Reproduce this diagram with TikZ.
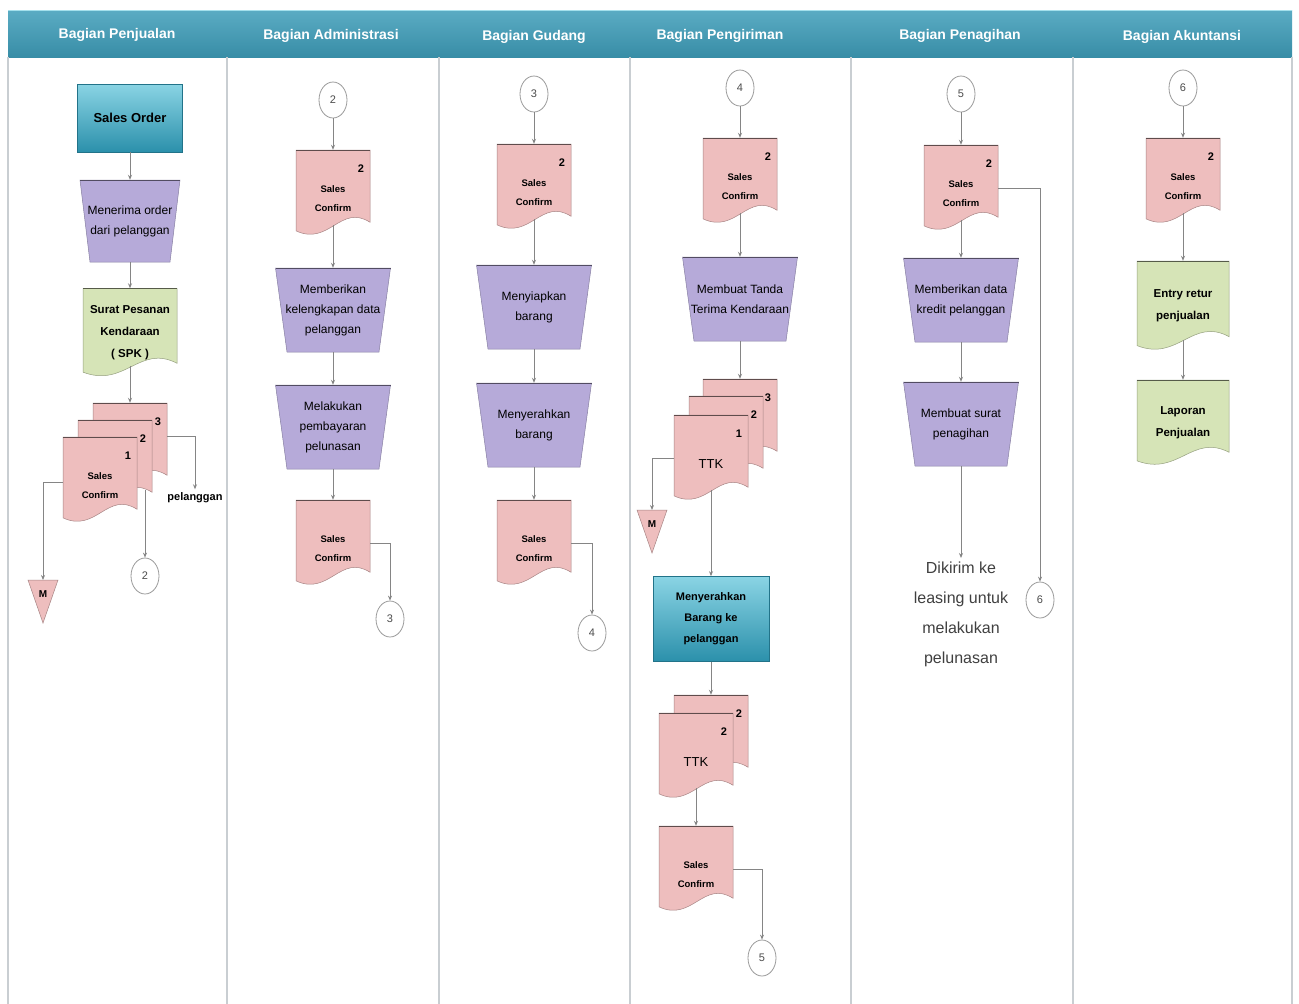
\documentclass[tikz,border=0pt]{standalone}
\usepackage{fontspec}
\setmainfont{Liberation Sans}
\usetikzlibrary{shapes.geometric,arrows.meta,calc}

\definecolor{hdrteal}{HTML}{3E9DB9}
\definecolor{hdrhi}{HTML}{A4E0EC}
\definecolor{docpink}{HTML}{EEBEBE}
\definecolor{oplav}{HTML}{B6AAD9}
\definecolor{docgreen}{HTML}{D6E4B7}
\definecolor{tealtop}{HTML}{8AD4E4}
\definecolor{tealbot}{HTML}{2B90AB}
\definecolor{wire}{HTML}{858585}
\definecolor{laneline}{HTML}{C9CED2}
\definecolor{circgray}{HTML}{9A9A9A}

\tikzset{
  x=1pt, y=-1pt,
  wire/.style={draw=wire, line width=0.8pt},
  flow/.style={wire, -{Stealth[length=5pt,width=4pt]}},
  lane/.style={draw=laneline, line width=1.6pt},
  anchorbox/.style={rectangle, inner sep=1pt, align=center},
  hdrlbl/.style={font=\bfseries\fontsize{14}{16}\selectfont, text=white},
  solbl/.style={font=\bfseries\fontsize{13}{15}\selectfont},
  % pink documents: label sits a little below the middle of the sheet
  cflbl/.style={font=\bfseries\fontsize{9.5}{19}\selectfont, yshift=-6pt, minimum height=98},
  oplbl/.style={font=\fontsize{12}{20}\selectfont},
  grlbl/.style={font=\bfseries\fontsize{11.5}{22}\selectfont},
  ttklbl/.style={font=\fontsize{13}{15}\selectfont, yshift=-6pt, minimum height=98},
  numlbl/.style={font=\bfseries\fontsize{11}{12}\selectfont, inner sep=0pt},
  procbox/.style={rectangle, draw=tealbot!80!black, line width=0.6pt,
    top color=tealtop, bottom color=tealbot, align=center, inner sep=2pt},
  conncirc/.style={ellipse, draw=circgray, fill=white, line width=0.8pt,
    minimum width=28, minimum height=36, inner sep=0pt,
    font=\fontsize{11}{12}\selectfont, text=black!70},
  notelbl/.style={align=center, font=\fontsize{16}{30}\selectfont, text=black!75},
  pellbl/.style={font=\bfseries\fontsize{11}{12}\selectfont}
}

% document symbol: name, x, y, width, height, fill, number, label style, text
\newcommand\docshape[9]{%
  \path[fill=#6, draw=#6!70!black, line width=0.5pt]
    ({#2-#4/2},{#3-#5/2}) -- ({#2+#4/2},{#3-#5/2})
    -- ({#2+#4/2},{#3+#5/2-0.16*#5})
    .. controls ({#2+#4/2-0.4*#4},{#3+#5/2-0.38*#5}) and ({#2-#4/2+0.45*#4},{#3+#5/2+0.12*#5})
    .. ({#2-#4/2},{#3+#5/2-0.06*#5}) -- cycle;
  \draw[draw=#6!40!black, line width=1pt] ({#2-#4/2},{#3-#5/2}) -- ({#2+#4/2},{#3-#5/2});
  \node[anchorbox, minimum width=#4, minimum height=#5, #8] (#1) at (#2,#3) {#9};
  \coordinate (#1-b) at (#2,{#3+#5/2-0.125*#5});
  \if\relax\detokenize{#7}\relax\else
    \node[numlbl] (#1-n) at ({#2+#4/2-9},{#3-#5/2+19}) {#7};
  \fi
}

% manual operation symbol: name, x, y, width, height, text
\newcommand\manop[6]{%
  \path[fill=oplav, draw=oplav!75!black, line width=0.5pt]
    ({#2-#4/2},{#3-#5/2}) -- ({#2+#4/2},{#3-#5/2})
    -- ({#2+#4/2-0.1*#4},{#3+#5/2}) -- ({#2-#4/2+0.1*#4},{#3+#5/2}) -- cycle;
  \draw[draw=oplav!45!black, line width=0.8pt] ({#2-#4/2},{#3-#5/2}) -- ({#2+#4/2},{#3-#5/2});
  \node[anchorbox, oplbl, minimum width=#4, minimum height=#5] (#1) at (#2,#3) {#6};
}

% merge (storage) triangle: name, x, top y
\newcommand\mergetri[3]{%
  \path[fill=docpink, draw=docpink!70!black, line width=0.5pt]
    ({#2-15},{#3}) -- ({#2+15},{#3}) -- (#2,{#3+43}) -- cycle;
  \coordinate (#1-top) at (#2,#3);
  \node[numlbl, font=\bfseries\fontsize{10}{12}\selectfont] (#1) at (#2,{#3+14}) {M};
}

\begin{document}
\begin{tikzpicture}
\useasboundingbox (0,0) rectangle (1299,1004);
\fill[white] (0,0) rectangle (1299,1004);

% swimlane header band
\shade[top color=hdrteal!85!white, bottom color=hdrteal!90!black] (8,10) rectangle (1292,57);
\draw[hdrhi, line width=1.2pt] (8,10.5) -- (1292,10.5);

% lane borders
\foreach \lx in {8,227,439,630,851,1073,1292}
  \draw[lane] (\lx,57) -- (\lx,1004);

% lane titles
\node[hdrlbl] (h1) at (117,35) {Bagian Penjualan};
\node[hdrlbl] (h2) at (331,36) {Bagian Administrasi};
\node[hdrlbl] (h3) at (534,37) {Bagian Gudang};
\node[hdrlbl] (h4) at (720,36) {Bagian Pengiriman};
\node[hdrlbl] (h5) at (960,36) {Bagian Penagihan};
\node[hdrlbl] (h6) at (1182,37) {Bagian Akuntansi};

% ---------- Bagian Penjualan ----------
\node[procbox, solbl, minimum width=105, minimum height=68] (so) at (130,118) {Sales Order};
\manop{m1}{130}{221}{100}{82}{Menerima order\\dari pelanggan}
\docshape{spk}{130}{333}{94}{89}{docgreen}{}{grlbl}{Surat Pesanan\\Kendaraan\\( SPK )}
\docshape{d1c}{130}{446}{74}{86}{docpink}{3}{cflbl}{}
\docshape{d1b}{115}{463}{74}{86}{docpink}{2}{cflbl}{}
\docshape{d1a}{100}{480}{74}{86}{docpink}{1}{cflbl}{Sales\\Confirm}
\coordinate (d1b-r) at (145,490);
\node[pellbl] (pel) at (195,498) {pelanggan};
\mergetri{mA}{43}{580}
\node[conncirc] (c2a) at (145,576) {2};

\draw[flow] (so.south) -- (m1.north);
\draw[flow] (m1.south) -- (spk.north);
\draw[flow] (spk-b) -- (d1c.north);
\draw[flow] ([yshift=16pt]d1c.east) -| (pel.north);
\draw[flow] ([yshift=4pt]d1a.west) -| (mA-top);
\draw[flow] (d1b-r) -- (c2a.north);

% ---------- Bagian Administrasi ----------
\node[conncirc] (c2b) at (333,100) {2};
\docshape{d2a}{333}{193}{74}{86}{docpink}{2}{cflbl}{Sales\\Confirm}
\manop{t2a}{333}{310}{115}{84}{Memberikan\\kelengkapan data\\pelanggan}
\manop{t2b}{333}{427}{115}{84}{Melakukan\\pembayaran\\pelunasan}
\docshape{d2b}{333}{543}{74}{86}{docpink}{}{cflbl}{Sales\\Confirm}
\node[conncirc] (c3a) at (390,619) {3};

\draw[flow] (c2b.south) -- (d2a.north);
\draw[flow] (d2a-b) -- (t2a.north);
\draw[flow] (t2a.south) -- (t2b.north);
\draw[flow] (t2b.south) -- (d2b.north);
\draw[flow] ([yshift=6pt]d2b.east) -| (c3a.north);

% ---------- Bagian Gudang ----------
\node[conncirc] (c3b) at (534,94) {3};
\docshape{d3a}{534}{187}{74}{86}{docpink}{2}{cflbl}{Sales\\Confirm}
\manop{t3a}{534}{307}{115}{84}{Menyiapkan\\barang}
\manop{t3b}{534}{425}{115}{84}{Menyerahkan\\barang}
\docshape{d3b}{534}{543}{74}{86}{docpink}{}{cflbl}{Sales\\Confirm}
\node[conncirc] (c4a) at (592,633) {4};

\draw[flow] (c3b.south) -- (d3a.north);
\draw[flow] (d3a-b) -- (t3a.north);
\draw[flow] (t3a.south) -- (t3b.north);
\draw[flow] (t3b.south) -- (d3b.north);
\draw[flow] ([yshift=6pt]d3b.east) -| (c4a.north);

% ---------- Bagian Pengiriman ----------
\node[conncirc] (c4b) at (740,88) {4};
\docshape{d4a}{740}{181}{74}{86}{docpink}{2}{cflbl}{Sales\\Confirm}
\manop{t4}{740}{299}{115}{84}{Membuat Tanda\\Terima Kendaraan}
\docshape{k3}{740}{422}{74}{86}{docpink}{3}{ttklbl}{}
\docshape{k2}{726}{439}{74}{86}{docpink}{2}{ttklbl}{}
\docshape{k1}{711}{458}{74}{86}{docpink}{1}{ttklbl}{TTK}
\mergetri{mB}{652}{510}
\node[procbox, font=\bfseries\fontsize{11}{21}\selectfont, minimum width=116, minimum height=85] (kirim) at (711,619) {Menyerahkan\\Barang ke\\pelanggan};
\docshape{q2}{711}{738}{74}{86}{docpink}{2}{ttklbl}{}
\docshape{q1}{696}{756}{74}{86}{docpink}{2}{ttklbl}{TTK}
\docshape{d4s}{696}{869}{74}{86}{docpink}{}{cflbl}{Sales\\Confirm}
\node[conncirc] (c5a) at (762,958) {5};

\draw[flow] (c4b.south) -- (d4a.north);
\draw[flow] (d4a-b) -- (t4.north);
\draw[flow] (t4.south) -- (k3.north);
\draw[flow] ([yshift=6pt]k1.west) -| (mB-top);
\draw[flow] (k1-b) -- (kirim.north);
\draw[flow] (kirim.south) -- (q2.north);
\draw[flow] (q1-b) -- (d4s.north);
\draw[flow] ([yshift=6pt]d4s.east) -| (c5a.north);

% ---------- Bagian Penagihan ----------
\node[conncirc] (c5b) at (961,94) {5};
\docshape{d5a}{961}{188}{74}{86}{docpink}{2}{cflbl}{Sales\\Confirm}
\manop{t5a}{961}{300}{115}{84}{Memberikan data\\kredit pelanggan}
\manop{t5b}{961}{424}{115}{84}{Membuat surat\\penagihan}
\node[notelbl] (ket) at (961,614) {Dikirim ke\\leasing untuk\\melakukan\\pelunasan};
\node[conncirc] (c6a) at (1040,600) {6};

\draw[flow] (c5b.south) -- (d5a.north);
\draw[flow] ([yshift=6pt]d5a.east) -| (c6a.north);
\draw[flow] (d5a-b) -- (t5a.north);
\draw[flow] (t5a.south) -- (t5b.north);
\draw[flow] (t5b.south) -- (ket.north);

% ---------- Bagian Akuntansi ----------
\node[conncirc] (c6b) at (1183,88) {6};
\docshape{d6a}{1183}{181}{74}{86}{docpink}{2}{cflbl}{Sales\\Confirm}
\docshape{g6a}{1183}{306}{92}{90}{docgreen}{}{grlbl}{Entry retur\\penjualan}
\docshape{g6b}{1183}{423}{92}{86}{docgreen}{}{grlbl}{Laporan\\Penjualan}

\draw[flow] (c6b.south) -- (d6a.north);
\draw[flow] (d6a-b) -- (g6a.north);
\draw[flow] (g6a-b) -- (g6b.north);
\end{tikzpicture}
\end{document}
